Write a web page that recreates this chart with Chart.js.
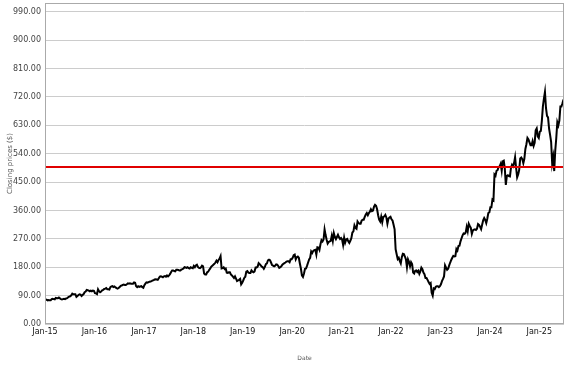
<!DOCTYPE html>
<html>
<head>
<meta charset="utf-8">
<script src="https://cdn.jsdelivr.net/npm/chart.js@4"></script>
<style>
    body { margin: 0; background: #fff; }
    #wrap { width: 577px; height: 367px; position: relative; }
</style>
</head>
<body>
<div id="wrap"><canvas id="myChart"></canvas></div>
<script>
// closing prices, four readings per month (roughly weekly)
var closes2015 = [78, 77, 75, 76, 75, 75, 79, 80, 79, 78, 83, 82, 82, 84, 81, 79, 78, 79, 80, 79, 81, 82, 85, 87,
    88, 91, 96, 94, 94, 94, 86, 89, 92, 94, 93, 89, 92, 95, 101, 103, 108, 107, 106, 104, 106, 104, 106, 105];
var closes2016 = [98, 97, 95, 110, 104, 101, 103, 107, 108, 111, 112, 114, 110, 110, 109, 117, 119, 120, 117, 119, 116, 114, 112, 114,
    117, 121, 122, 124, 125, 124, 124, 126, 129, 128, 129, 128, 128, 128, 132, 131, 120, 117, 120, 118, 119, 120, 117, 115];
var closes2017 = [123, 128, 132, 131, 133, 134, 135, 136, 138, 139, 141, 142, 141, 140, 145, 150, 151, 150, 148, 151, 152, 150, 154, 151,
    154, 159, 165, 170, 170, 168, 167, 172, 172, 171, 170, 170, 173, 174, 176, 180, 179, 178, 180, 177, 176, 180, 178, 177];
var closes2018 = [184, 180, 186, 188, 181, 178, 177, 180, 185, 183, 160, 157, 157, 164, 166, 172, 176, 182, 185, 188, 191, 195, 201, 196,
    203, 207, 215, 176, 177, 180, 174, 176, 163, 162, 164, 164, 157, 154, 150, 146, 151, 144, 136, 138, 140, 143, 126, 131];
var closes2019 = [138, 146, 150, 166, 168, 163, 162, 162, 170, 166, 164, 167, 179, 179, 182, 193, 190, 186, 182, 180, 175, 181, 190, 192,
    202, 204, 202, 195, 187, 185, 183, 185, 189, 188, 184, 178, 180, 183, 188, 191, 193, 195, 198, 199, 199, 196, 205, 205];
var closes2020 = [210, 218, 220, 205, 212, 214, 210, 192, 176, 154, 149, 160, 175, 176, 185, 195, 205, 210, 230, 225, 232, 234, 235, 220,
    243, 242, 235, 253, 266, 262, 268, 300, 282, 267, 255, 260, 262, 264, 280, 263, 288, 276, 269, 276, 283, 275, 270, 273];
var closes2021 = [268, 251, 274, 258, 268, 270, 262, 257, 264, 272, 290, 294, 313, 305, 302, 325, 320, 318, 318, 328, 331, 331, 340, 347,
    352, 345, 352, 356, 364, 358, 360, 372, 378, 375, 364, 345, 331, 325, 340, 323, 340, 341, 346, 338, 318, 334, 338, 340];
var closes2022 = [332, 328, 315, 300, 237, 221, 206, 210, 200, 192, 212, 223, 222, 214, 205, 180, 205, 197, 183, 196, 190, 163, 160, 169,
    170, 165, 169, 159, 167, 179, 174, 163, 158, 146, 146, 140, 133, 127, 130, 99, 90, 113, 111, 118, 120, 120, 117, 120];
var closes2023 = [126, 136, 143, 151, 186, 179, 172, 175, 186, 195, 203, 210, 216, 214, 215, 238, 233, 247, 248, 262, 272, 281, 287, 286,
    290, 308, 294, 318, 311, 305, 286, 297, 299, 300, 298, 302, 317, 314, 308, 301, 315, 329, 336, 330, 320, 334, 352, 354];
var closes2024 = [370, 370, 395, 392, 474, 470, 486, 488, 498, 500, 508, 486, 516, 518, 494, 441, 470, 472, 469, 468, 495, 505, 500, 510,
    529, 495, 465, 474, 489, 525, 528, 523, 510, 524, 555, 570, 590, 585, 576, 567, 567, 580, 565, 575, 614, 620, 595, 590];
var closes2025 = [610, 612, 645, 690, 715, 736, 685, 660, 655, 620, 600, 578, 510, 530, 485, 550, 590, 640, 630, 645, 690, 690, 700, 712];

var firstYear = 2015;
var readingsPerYear = 48;
var xMin = 2015;
var xMax = 2025.5;
var thresholdPrice = 498;
var yTickStep = 90;
var yMax = 1018;

document.addEventListener('DOMContentLoaded', function() {
    var ctx = document.getElementById('myChart').getContext('2d');

    var allCloses = [].concat(closes2015, closes2016, closes2017, closes2018, closes2019, closes2020,
        closes2021, closes2022, closes2023, closes2024, closes2025);
    // each reading sits in the middle of its week slot
    var points = allCloses.map(function(v, i) {
        return { x: firstYear + (i + 0.5) / readingsPerYear, y: v };
    });

    // grey frame round the plot
    var frame = {
        id: 'frame',
        afterDatasetsDraw: function(chart) {
            var a = chart.chartArea;
            var c = chart.ctx;
            c.save();
            c.strokeStyle = '#aaaaaa';
            c.lineWidth = 1;
            c.strokeRect(Math.round(a.left) + 0.5, Math.round(a.top) + 0.5,
                Math.round(a.right - a.left) - 1, Math.round(a.bottom - a.top) - 1);
            c.restore();
        }
    };

    var myChart = new Chart(ctx, {
        type: 'line',
        data: {
            datasets: [{
                label: 'Threshold',
                data: [{ x: xMin, y: thresholdPrice }, { x: xMax, y: thresholdPrice }],
                borderColor: '#e00000',
                borderWidth: 2,
                pointRadius: 0
            }, {
                label: 'Close',
                data: points,
                borderColor: '#000000',
                borderWidth: 2,
                pointRadius: 0,
                tension: 0
            }]
        },
        options: {
            responsive: true,
            maintainAspectRatio: false,
            animation: false,
            layout: {
                padding: { top: 3, right: 13, left: 0, bottom: 0 }
            },
            plugins: {
                legend: { display: false },
                tooltip: { enabled: false }
            },
            scales: {
                x: {
                    type: 'linear',
                    min: xMin,
                    max: xMax,
                    afterFit: function(scale) {
                        scale.height = 43;
                        scale.paddingLeft = 0; // no room needed for the edge labels
                        scale.paddingRight = 0;
                    },
                    grid: { display: false, drawTicks: false },
                    border: { display: false },
                    ticks: {
                        stepSize: 1,
                        includeBounds: false,
                        autoSkip: false,
                        maxRotation: 0,
                        padding: 3,
                        color: '#111',
                        font: { family: 'DejaVu Sans', size: 8 },
                        callback: function(v) { return 'Jan-' + String(Math.round(v)).slice(2); }
                    },
                    title: {
                        display: true,
                        text: 'Date',
                        color: '#555',
                        font: { family: 'DejaVu Sans', size: 6 },
                        padding: { top: 0, bottom: 5 }
                    }
                },
                y: {
                    min: 0,
                    max: yMax,
                    afterFit: function(scale) {
                        scale.width = 45;
                        scale.paddingTop = 0; // keep the plot up against the top edge
                        scale.paddingBottom = 0;
                    },
                    grid: { color: '#cccccc', lineWidth: 1, drawTicks: false },
                    border: { display: false },
                    ticks: {
                        stepSize: yTickStep,
                        includeBounds: false,
                        padding: 4,
                        color: '#444',
                        font: { family: 'DejaVu Sans', size: 8 },
                        callback: function(v) { return v.toFixed(2); }
                    },
                    title: {
                        display: true,
                        text: 'Closing prices ($)',
                        color: '#555',
                        font: { family: 'DejaVu Sans', size: 7 },
                        padding: { top: 6, bottom: 0 }
                    }
                }
            }
        },
        plugins: [frame]
    });
});
</script>
</body>
</html>
